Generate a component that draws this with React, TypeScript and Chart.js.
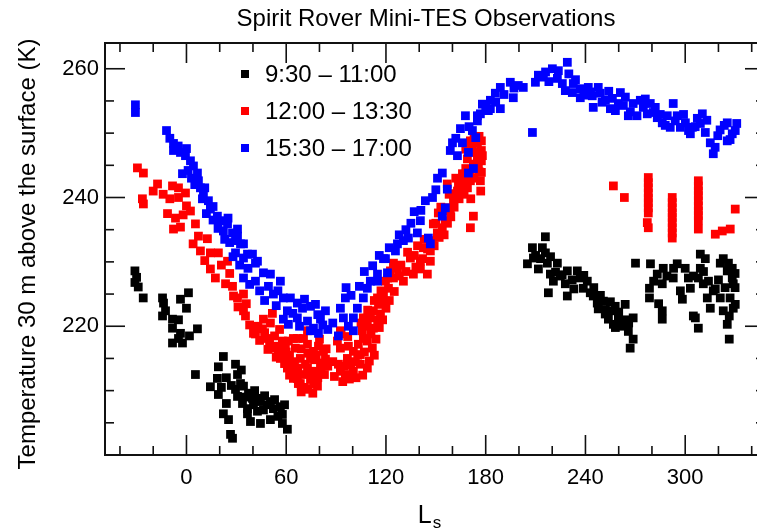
import React, { useEffect, useRef } from 'react';
import { Chart, registerables } from 'chart.js';

Chart.register(...registerables);

const chartTitle = 'Spirit Rover Mini-TES Observations';
const yAxisTitle = 'Temperature 30 m above the surface (K)';
const xAxisTitleMain = 'L';
const xAxisTitleSub = 's';

const seriesLabels = ['9:30 – 11:00', '12:00 – 13:30', '15:30 – 17:00'];
const seriesColors = ['#000000', '#ff0000', '#0000ff'];

// 9:30 – 11:00
const morning: [number, number][] = [
  [-31, 228.6], [-31, 226.8], [-29, 226.1], [-30, 227.6], [-26, 224.4],
  [-14.4, 224.4], [-13.8, 223.6], [-14.4, 221.6], [-12.6, 222.4], [-8.4, 221.1], [-4.8, 221.0],
  [-3.6, 224.2], [1.2, 225.2], [0, 222.8], [-8.4, 219.7], [-3.6, 218.9], [-4.8, 218.1],
  [-8.4, 217.4], [-2.4, 217.4], [1.8, 218.5], [6.6, 219.6],
  [5.4, 212.5], [22.2, 215.3], [19.2, 213.7], [18.6, 211.9], [14.4, 210.6], [19.2, 209.4],
  [22.2, 206.4], [25.3, 205.5], [26.5, 203.2], [27.7, 202.6], [29.5, 214.1], [30.7, 212.5],
  [32.5, 211.1], [29.5, 210.2], [30.7, 209.1], [34.3, 210.7], [37.3, 209.6], [39.7, 208.8],
  [36.7, 207.2], [40.3, 207.8], [42.7, 206.8], [44.5, 208.3], [46.3, 207.0], [48.7, 207.8],
  [50.5, 208.3], [52.3, 207.2], [56.5, 207.5], [57.7, 206.3], [50.5, 205.5], [44.5, 204.9],
  [38.5, 205.2], [57.7, 204.9], [60.7, 204.0], [36.7, 206.4], [33.7, 208.0],
  [24, 212.0], [27, 210.8], [33, 213.2], [35, 209.0], [41, 210.0], [43, 208.8], [47, 209.2],
  [53, 208.6], [55, 206.0], [59, 207.8], [21, 210.5], [24, 208.0],
  [215.9, 233.9], [208.1, 232.2], [214.1, 232.2], [215.9, 231.4], [205.1, 229.7], [208.7, 230.6],
  [211.7, 228.9], [217.1, 229.8], [223.1, 229.8], [218.9, 228.1], [220.7, 227.0], [217.7, 225.2],
  [224.9, 227.8], [229.1, 228.6], [227.9, 226.6], [229.1, 224.7], [235.1, 228.6], [236.9, 227.5],
  [238.7, 225.9], [241.1, 227.0], [242.9, 225.2], [244.7, 224.7], [247.1, 223.6], [247.7, 222.7],
  [250.8, 223.9], [251.9, 221.9], [253.8, 221.1], [256.2, 222.4], [257.9, 223.1], [256.8, 220.3],
  [259.8, 221.3], [263.9, 223.4], [268.7, 221.3], [262.7, 220.0], [265.8, 219.2], [268.7, 218.0],
  [266.9, 216.6], [261.0, 220.5],
  [210, 231.0], [213, 230.5], [219, 230.8], [222, 228.4], [226, 228.0], [232, 227.2], [233, 225.8],
  [239, 227.9], [245, 226.0], [249, 224.8], [252, 222.6], [255, 223.8], [258, 219.8], [260, 222.2],
  [264, 221.0], [266, 220.5],
  [270.1, 229.8], [279.1, 229.7], [283.2, 228.1], [278.5, 225.9], [278.5, 224.4], [286.8, 229.0],
  [286.2, 226.6], [286.2, 222.4], [286.2, 221.1], [295.2, 229.7], [292.8, 227.5], [297.1, 225.5],
  [298.3, 224.2], [301.9, 227.5], [303.1, 225.9], [304.9, 221.6], [306.1, 221.3], [307.9, 219.7],
  [309.1, 231.2], [312.1, 230.5], [309.1, 229.0], [307.9, 227.5], [310.9, 226.6], [313.3, 224.4],
  [315.1, 222.8], [316.9, 225.5], [321.1, 229.8], [322.9, 230.5], [325.3, 228.6], [328.3, 229.0],
  [328.3, 227.5], [328.9, 226.6], [321.1, 224.4], [322.9, 222.4], [326.5, 221.6], [328.9, 222.8],
  [330.1, 223.4], [325.3, 220.3], [326.5, 218.0], [318.1, 225.8],
  [281, 227.0], [284, 223.5], [289, 227.8], [293, 229.0], [300, 229.0], [305, 227.8], [311, 228.5],
  [314, 227.0], [320, 227.2], [324, 226.0], [327, 224.4], [330, 228.2], [326, 229.8], [330, 226.0],
];

// 12:00 – 13:30
const midday: [number, number][] = [
  [-29.5, 244.6], [-25.9, 243.8], [-26.5, 239.8], [-25.9, 239.0],
  [-17.4, 242.1], [-8.4, 241.8], [-4.8, 241.5], [-0.6, 240.7], [-4.8, 240.0], [2.4, 237.9],
  [-11.4, 237.5], [-6.6, 236.8], [-3.6, 235.4], [-7.8, 235.1], [5.4, 235.9], [7.2, 234.0],
  [12.6, 233.6], [8.4, 231.7], [14.4, 231.4], [19.2, 231.4], [24.7, 230.1], [14.4, 228.9],
  [17.4, 227.5], [23.5, 226.6], [27.7, 226.2], [30.7, 224.4], [34.3, 225.0], [34.3, 222.4],
  [35.5, 221.6], [28.3, 224.7], [41.5, 218.8], [46.3, 221.1], [51.7, 222.0], [45.7, 219.6],
  [48.7, 218.1], [52.3, 216.6], [56.5, 215.0], [60.7, 213.5], [64.3, 211.9], [67.3, 211.1],
  [59.5, 217.2], [68.5, 215.0], [72.8, 213.5], [76.4, 211.0], [72.8, 217.2], [70.4, 218.1],
  [64.3, 218.1], [57.7, 217.7], [40.3, 218.9], [50.5, 220.5], [54.7, 216.9], [58.3, 215.7],
  [61.3, 214.6], [63.7, 213.0], [66.7, 211.9], [71.6, 214.1], [74.6, 215.0], [76.4, 216.1],
  [79.4, 216.9], [82.4, 216.1], [83.6, 214.9], [80.6, 214.3], [77.6, 213.0], [74.6, 211.8],
  [78.8, 210.7], [72.8, 219.3], [65.5, 216.6], [66.7, 218.1], [61.3, 217.7], [68.5, 211.1],
  [63.7, 214.3], [55.3, 216.1],
  [43, 220.0], [47, 219.0], [50, 217.5], [53, 218.5], [56, 219.5], [60, 216.0], [62, 215.5],
  [65, 214.5], [67, 213.5], [69, 216.5], [70, 212.5], [73, 215.8], [75, 213.0], [77, 214.8],
  [79, 212.0], [81, 213.2], [83, 212.5], [85, 213.8], [84, 216.5], [80, 218.0], [78, 215.5],
  [71, 210.5], [69, 209.8], [73, 210.2], [76, 209.6], [66, 213.2], [62, 212.4], [59, 214.2],
  [54, 215.2], [49, 216.4], [44, 217.8], [38, 220.2], [36, 223.5], [31, 223.0], [26, 228.2],
  [21, 229.5], [11, 230.2], [4, 232.8], [0, 238.7], [-2, 237.3], [-10, 239.8], [-14, 240.5],
  [-20, 241.0],
  [92.6, 219.3], [90.8, 217.7], [92.6, 216.6], [91.4, 214.1], [92.6, 213.0], [95.6, 212.5],
  [100.4, 213.0], [104.6, 214.1], [108.8, 213.5], [96.8, 215.0], [100.4, 216.1], [97.4, 216.9],
  [103.4, 217.2], [106.4, 218.1], [105.8, 219.3], [108.8, 220.0], [110.6, 221.3], [106.4, 221.3],
  [112.4, 222.4], [115.5, 223.4], [114.9, 224.4], [118.5, 225.0], [121.5, 225.9], [124.5, 227.5],
  [126.9, 229.0], [124.5, 229.8], [122.7, 228.6], [119.7, 227.0], [116.7, 221.9], [112.4, 219.7],
  [108.8, 217.7], [111.8, 216.6], [104.6, 215.6], [101.6, 214.5],
  [88, 214.5], [89, 212.2], [94, 211.4], [98, 211.8], [102, 212.0], [106, 212.4], [110, 214.6],
  [113, 215.5], [114, 218.0], [116, 219.8], [118, 221.0], [120, 222.8], [122, 224.0], [125, 225.4],
  [128, 227.8], [119, 223.8], [115, 221.0], [111, 218.8], [107, 216.0], [103, 215.5], [99, 214.0],
  [95, 213.8], [97, 218.4], [93, 218.8], [105, 220.5], [109, 222.5], [113, 224.0], [117, 225.5],
  [121, 227.5],
  [130.5, 227.0], [136.5, 228.1], [134.7, 230.6], [140.7, 230.1], [144.9, 228.1], [142.5, 232.2],
  [147.9, 233.3], [150.9, 234.5], [148.5, 235.9], [153.9, 235.3], [155.7, 236.4], [151.5, 237.6],
  [156.9, 238.4], [160.6, 239.5], [160.0, 240.6], [163.0, 241.0], [156.9, 242.1], [163.6, 242.1],
  [166.6, 242.6], [169.0, 241.5], [166.0, 243.7], [170.8, 244.2], [172.6, 245.2], [175.0, 246.2],
  [169.0, 246.0], [172.0, 247.7], [175.0, 248.4], [170.8, 248.8], [175.6, 244.6], [170.8, 242.6],
  [172.6, 237.1], [170.8, 235.3], [158.7, 237.9], [146.7, 231.7], [140.7, 228.9], [146.7, 230.1],
  [177.4, 248.8], [177.4, 247.3], [177.4, 245.7], [177.4, 243.9], [176.8, 242.6],
  [129, 229.5], [132, 228.5], [133, 231.5], [137, 231.0], [138, 229.2], [139, 232.5], [142, 230.5],
  [143, 233.5], [145, 232.0], [149, 232.5], [150, 236.0], [152, 233.8], [153, 238.5], [155, 234.2],
  [157, 236.0], [158, 240.5], [159, 237.0], [161, 238.5], [162, 243.0], [164, 239.8], [165, 241.8],
  [167, 240.5], [168, 244.5], [168, 247.5], [171, 239.8], [173, 243.0], [174, 247.0], [176, 249.5],
  [177, 241.0], [178, 246.5], [173, 249.5], [176, 244.0],
  [256.8, 241.8], [263.4, 240.0],
  [277.8, 243.1], [277.8, 242.3], [277.8, 241.5], [277.8, 240.7], [277.8, 239.9], [277.8, 239.2],
  [277.8, 238.4], [277.8, 237.6], [277.2, 236.1], [277.8, 235.3],
  [292.2, 240.0], [292.2, 239.2], [292.2, 238.4], [292.2, 237.6], [292.2, 236.9], [292.2, 236.1],
  [292.2, 235.3], [292.2, 234.5], [292.2, 233.7],
  [307.9, 242.6], [307.9, 241.8], [307.9, 241.0], [307.9, 240.3], [307.9, 239.5], [307.9, 238.7],
  [307.9, 237.9], [307.9, 237.2], [307.9, 236.4], [307.9, 235.1],
  [318.1, 234.3], [322.3, 234.8], [327.1, 235.1], [330.1, 238.2],
];

// 15:30 – 17:00
const afternoon: [number, number][] = [
  [-30.7, 254.4], [-30.7, 253.2], [-12.0, 250.4], [-7.8, 248.4], [-7.8, 247.3], [-3.6, 247.0],
  [-0.6, 246.5], [-2.4, 243.7], [2.4, 245.7], [4.2, 244.9], [6.6, 243.8], [7.2, 242.6],
  [8.4, 241.5], [10.2, 240.7], [9.6, 239.8], [13.2, 239.5], [14.4, 238.2], [18.6, 237.1],
  [20.4, 236.4], [24.7, 235.9], [22.2, 234.8], [27.7, 234.5], [30.7, 235.1], [29.5, 233.3],
  [34.3, 232.8], [29.5, 231.4], [34.3, 230.6], [39.7, 231.2], [41.5, 229.8], [30.7, 234.0],
  [32.5, 232.8], [36.7, 231.2], [42.7, 230.1], [34.3, 227.5], [41.5, 227.0], [46.3, 228.3],
  [50.5, 228.1], [49.3, 226.2], [56.5, 227.0], [52.3, 225.0], [58.3, 224.4], [62.5, 224.4],
  [66.7, 223.6], [69.8, 222.8], [74.6, 223.1], [77.6, 223.4], [83.6, 222.4], [60.7, 222.4],
  [58.3, 221.1], [61.3, 220.3], [66.7, 221.3], [72.8, 220.8], [76.4, 219.7], [79.4, 218.9],
  [80.6, 221.1], [74.6, 219.3],
  [-10, 249.2], [-5, 248.0], [0, 247.6], [1, 244.2], [3, 243.0], [5, 242.0], [11, 241.5],
  [12, 237.5], [16, 236.5], [16, 238.6], [19, 235.2], [23, 233.5], [26, 233.0], [25, 236.8],
  [28, 230.8], [32, 229.5], [37, 229.0], [38, 226.5], [44, 225.5], [47, 224.0], [54, 223.2],
  [55, 225.5], [64, 222.0], [68, 220.0], [71, 224.2], [79, 221.8], [82, 220.2], [85, 219.5],
  [88, 220.5],
  [91.4, 218.5], [92.6, 222.8], [95.6, 224.4], [94.4, 221.3],
  [97.4, 220.0], [100.4, 221.3], [100.4, 219.3], [102.8, 222.8], [106.4, 224.4], [108.8, 225.9],
  [110.6, 227.0], [114.9, 227.0], [118.5, 230.5], [120.9, 228.3], [125.7, 231.7], [126.9, 232.8],
  [114.9, 228.1], [119.7, 230.5], [130.5, 233.3], [133.5, 233.7], [140.7, 236.4], [138.9, 234.5],
  [145.5, 233.7], [146.7, 232.8], [143.7, 239.5], [153.9, 237.1], [155.7, 238.4], [156.9, 241.3],
  [153.9, 243.8], [158.7, 247.3], [164.8, 250.7], [167.8, 252.7], [175.0, 252.7], [172.0, 250.4],
  [175.0, 251.9], [169.6, 247.0], [172.6, 244.5], [169.6, 243.8],
  [96, 226.0], [99, 224.8], [104, 226.2], [107, 228.5], [112, 229.4], [116, 231.0], [122, 232.2],
  [128, 234.2], [132, 235.0], [135, 236.0], [137, 237.8], [141, 238.0], [148, 240.0], [150, 241.2],
  [151, 243.0], [160, 248.5], [162, 249.2], [163, 246.5], [166, 248.5], [170, 251.0], [174, 249.3],
  [178, 254.5], [180, 253.9],
  [182.8, 253.8], [176.8, 253.0],
  [182.8, 255.1], [181.6, 253.5], [185.8, 256.2], [188.8, 257.1], [188.8, 253.8], [194.8, 257.9],
  [196.6, 255.5], [199.6, 257.4], [202.6, 257.1], [208.1, 250.1], [209.9, 257.9], [211.7, 259.0],
  [214.7, 258.7], [220.1, 260.0], [223.7, 259.7], [223.1, 258.5], [229.1, 261.0], [226.1, 257.7],
  [227.9, 256.6], [232.7, 257.7], [232.1, 256.3], [236.9, 256.9], [236.9, 255.5], [241.7, 257.1],
  [244.1, 255.8], [244.7, 254.0], [247.7, 257.1], [248.9, 256.2], [252.0, 255.1], [255.0, 253.8],
  [256.2, 255.4], [261.0, 256.3], [259.8, 254.6], [262.8, 254.3], [265.8, 252.7], [268.7, 254.6],
  [273.0, 255.1], [274.8, 254.0], [277.2, 253.0], [279.0, 254.6], [280.8, 253.2], [283.2, 252.4],
  [286.2, 251.6], [289.2, 252.7], [291.0, 250.9], [292.8, 254.6], [295.2, 252.7], [297.1, 250.9],
  [300.1, 251.6], [303.1, 249.9], [304.3, 250.9], [307.3, 252.3], [310.3, 253.0], [309.1, 251.5],
  [312.1, 250.1], [315.1, 248.5], [316.9, 246.8], [319.6, 249.6], [323.5, 251.2], [325.3, 251.6],
  [328.3, 249.9], [330.1, 250.4], [325.3, 248.8],
  [186, 254.8], [191, 256.0], [197, 257.0], [216, 259.5], [218, 258.0], [230, 259.2], [234, 258.3],
  [239, 255.9], [243, 256.4], [250, 254.8], [254, 256.5], [258, 253.5], [264, 255.6], [267, 253.3],
  [271, 252.7], [276, 255.3], [282, 254.0], [285, 252.9], [288, 251.2], [294, 251.9], [299, 252.9],
  [302, 250.4], [306, 251.0], [313, 252.0], [318, 247.8], [321, 250.5], [327, 249.0], [331, 251.5],
];

const xRange = [-49, 348];
const yRange = [200, 264];
const xTicks = [0, 60, 120, 180, 240, 300];
const xMinorTicks = [-40, -20, 20, 40, 80, 100, 140, 160, 200, 220, 260, 280, 320, 340];
const yTicks = [220, 240, 260];
const yMinorTicks = [205, 210, 215, 225, 230, 235, 245, 250, 255];

const FONT = '"Liberation Sans", Arial, Helvetica, sans-serif';

const decorPlugin = {
  id: 'decor',
  afterDraw(chart: any) {
    const ctx: CanvasRenderingContext2D = chart.ctx;
    const { left, right, top, bottom } = chart.chartArea;
    const xs = chart.scales.x;
    const ys = chart.scales.y;
    ctx.save();
    ctx.strokeStyle = '#111';
    ctx.lineCap = 'butt';
    const line = (x1: number, y1: number, x2: number, y2: number) => {
      ctx.beginPath();
      ctx.moveTo(x1, y1);
      ctx.lineTo(x2, y2);
      ctx.stroke();
    };
    ctx.lineWidth = 1.6;
    xTicks.forEach((v) => {
      const p = xs.getPixelForValue(v);
      line(p, bottom, p, bottom - 20);
      line(p, top, p, top + 20);
    });
    xMinorTicks.forEach((v) => {
      const p = xs.getPixelForValue(v);
      line(p, bottom, p, bottom - 9);
      line(p, top, p, top + 9);
    });
    yTicks.forEach((v) => {
      const p = ys.getPixelForValue(v);
      line(left, p, left + 20, p);
      line(right, p, right - 20, p);
    });
    yMinorTicks.forEach((v) => {
      const p = ys.getPixelForValue(v);
      line(left, p, left + 9, p);
      line(right, p, right - 9, p);
    });
    ctx.lineWidth = 2;
    ctx.strokeRect(left, top, right - left, bottom - top);

    ctx.fillStyle = '#000';
    ctx.font = `24px ${FONT}`;
    ctx.textAlign = 'center';
    ctx.textBaseline = 'middle';
    ctx.fillText(chartTitle, 426, 19);

    ctx.save();
    ctx.translate(28, 254);
    ctx.rotate(-Math.PI / 2);
    ctx.font = `24px ${FONT}`;
    ctx.fillText(yAxisTitle, 0, 0);
    ctx.restore();

    ctx.textAlign = 'left';
    ctx.textBaseline = 'alphabetic';
    ctx.font = `25px ${FONT}`;
    const wL = ctx.measureText(xAxisTitleMain).width;
    ctx.font = `17px ${FONT}`;
    const wS = ctx.measureText(xAxisTitleSub).width;
    const x0 = 429 - (wL + wS) / 2;
    ctx.font = `25px ${FONT}`;
    ctx.fillText(xAxisTitleMain, x0, 523);
    ctx.font = `17px ${FONT}`;
    ctx.fillText(xAxisTitleSub, x0 + wL + 1, 528);

    ctx.font = `24px ${FONT}`;
    ctx.textBaseline = 'middle';
    const legendY = [74, 111, 148];
    chart.data.datasets.forEach((ds: any, i: number) => {
      ctx.fillStyle = ds.backgroundColor;
      ctx.fillRect(245 - 4, legendY[i] - 4, 8, 8);
      ctx.fillStyle = '#000';
      ctx.fillText(ds.label, 265, legendY[i] + 1);
    });
    ctx.restore();
  },
};

export default function App() {
  const ref = useRef<HTMLCanvasElement | null>(null);
  useEffect(() => {
    document.body.style.margin = '0';
    if (!ref.current) return;
    const mk = (pts: [number, number][]) => pts.map(([x, y]) => ({ x, y }));
    const seriesData = [morning, midday, afternoon];
    const orders = [2, 1, 0];
    const chart = new Chart(ref.current, {
      type: 'scatter',
      data: {
        datasets: seriesData.map((d, i) => ({
          label: seriesLabels[i],
          data: mk(d),
          backgroundColor: seriesColors[i],
          borderColor: seriesColors[i],
          borderWidth: 0,
          pointStyle: 'rect',
          pointRadius: 6.2,
          pointHoverRadius: 6.2,
          order: orders[i],
        })),
      },
      options: {
        animation: false,
        responsive: false,
        devicePixelRatio: 1,
        layout: { padding: 0 },
        plugins: {
          legend: { display: false },
          title: { display: false },
          tooltip: { enabled: false },
        },
        events: [],
        scales: {
          x: {
            type: 'linear',
            position: 'bottom',
            min: xRange[0],
            max: xRange[1],
            grid: { display: false, drawTicks: false },
            border: { display: false },
            afterBuildTicks: (s: any) => {
              s.ticks = xTicks.map((v) => ({ value: v }));
            },
            afterFit: (s: any) => {
              s.height = 75;
            },
            ticks: {
              color: '#000',
              font: { family: FONT, size: 22 },
              padding: 10,
              maxRotation: 0,
              autoSkip: false,
            },
          },
          x2: {
            type: 'linear',
            position: 'top',
            axis: 'x',
            min: xRange[0],
            max: xRange[1],
            grid: { display: false, drawTicks: false },
            border: { display: false },
            ticks: { display: false },
            afterFit: (s: any) => {
              s.height = 43;
            },
          },
          y: {
            type: 'linear',
            position: 'left',
            min: yRange[0],
            max: yRange[1],
            grid: { display: false, drawTicks: false },
            border: { display: false },
            afterBuildTicks: (s: any) => {
              s.ticks = yTicks.map((v) => ({ value: v }));
            },
            afterFit: (s: any) => {
              s.width = 105;
            },
            ticks: {
              color: '#000',
              font: { family: FONT, size: 22 },
              padding: 6,
              autoSkip: false,
            },
          },
          y2: {
            type: 'linear',
            position: 'right',
            axis: 'y',
            min: yRange[0],
            max: yRange[1],
            grid: { display: false, drawTicks: false },
            border: { display: false },
            ticks: { display: false },
            afterFit: (s: any) => {
              s.width = 10;
            },
          },
        },
      },
      plugins: [decorPlugin],
    } as any);
    return () => chart.destroy();
  }, []);
  return (
    <div style={{ width: 757, height: 530, overflow: 'hidden', position: 'relative', background: '#fff' }}>
      <canvas ref={ref} width={775} height={530} style={{ display: 'block' }} />
    </div>
  );
}
